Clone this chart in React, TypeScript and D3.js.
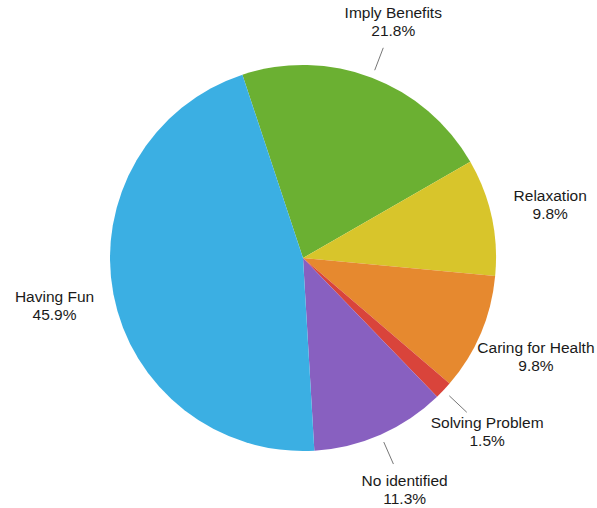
import React from "react";
import * as d3 from "d3";

const categories = ["Imply Benefits", "Relaxation", "Caring for Health", "Solving Problem", "No identified", "Having Fun"];
const values = [21.8, 9.8, 9.8, 1.5, 11.3, 45.9];
const valueLabels = ["21.8%", "9.8%", "9.8%", "1.5%", "11.3%", "45.9%"];
const colors = ["#6bb032", "#d8c52b", "#e6892f", "#d9443b", "#8860c0", "#3bafe3"];
const leaderCategories = ["Imply Benefits", "Solving Problem", "No identified"];

const W = 597;
const H = 508;
const cx = 303;
const cy = 258;
const R = 193;
const startDeg = -18.3;

export default function App() {
  const data = categories.map((c, i) => ({ name: c, value: values[i], label: valueLabels[i], color: colors[i] }));
  const start = (startDeg * Math.PI) / 180;
  const pie = d3
    .pie<any>()
    .sort(null)
    .value((d: any) => d.value)
    .startAngle(start)
    .endAngle(start + 2 * Math.PI);
  const arcs = pie(data);
  const arc = d3.arc<any>().innerRadius(0).outerRadius(R);
  const pt = (a: number, r: number) => [Math.sin(a) * r, -Math.cos(a) * r];

  return (
    <svg
      width={W}
      height={H}
      style={{ position: "absolute", left: 0, top: 0, background: "#fff" }}
      fontFamily="'Liberation Sans', Arial, sans-serif"
    >
      <g transform={`translate(${cx},${cy})`}>
        {arcs.map((a, i) => (
          <path key={i} d={arc(a) as string} fill={a.data.color} />
        ))}
        {arcs.map((a, i) => {
          const mid = (a.startAngle + a.endAngle) / 2;
          const [lx, ly] = pt(mid, 253);
          const showLine = leaderCategories.includes(a.data.name);
          const [x1, y1] = pt(mid, 201);
          const [x2, y2] = pt(mid, 225);
          return (
            <g key={"l" + i}>
              {showLine && <line x1={x1} y1={y1} x2={x2} y2={y2} stroke="#777" strokeWidth={1} />}
              <text x={lx} y={ly - 9} textAnchor="middle" dominantBaseline="central" fontSize={15.5} fill="#1a1a1a">
                {a.data.name}
              </text>
              <text x={lx} y={ly + 9} textAnchor="middle" dominantBaseline="central" fontSize={15.5} fill="#1a1a1a">
                {a.data.label}
              </text>
            </g>
          );
        })}
      </g>
    </svg>
  );
}
